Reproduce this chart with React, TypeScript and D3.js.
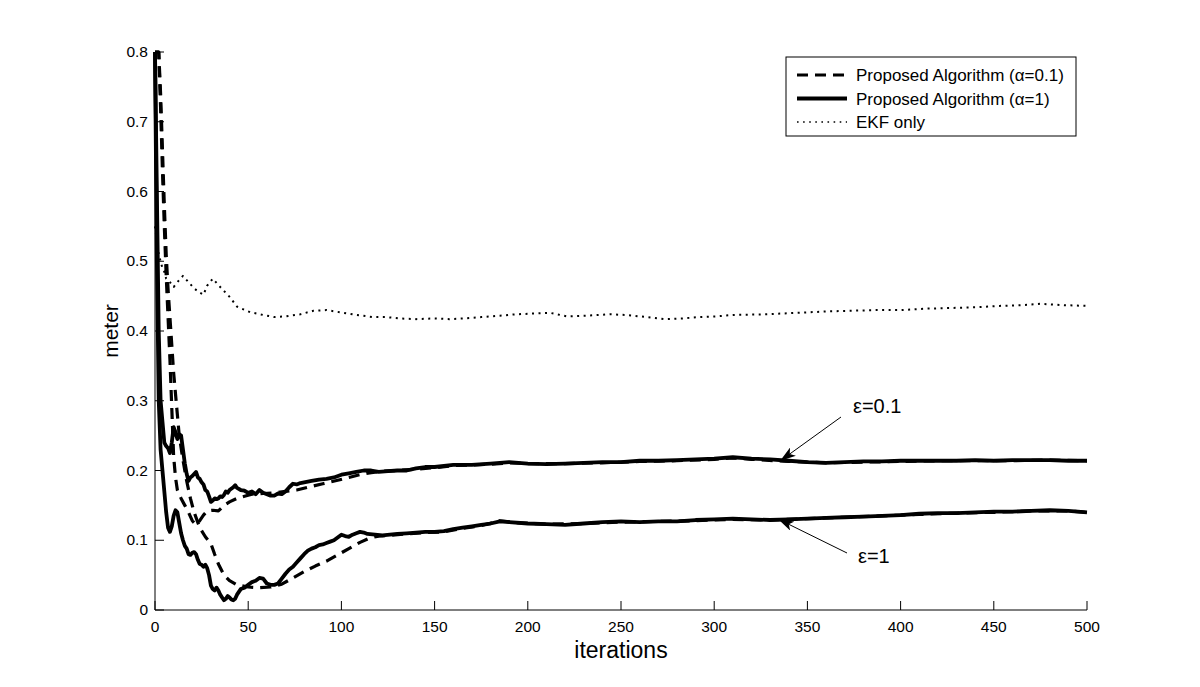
import React from 'react';
import * as d3 from 'd3';

// [iteration, meter]
const solidEps01: [number, number][] = [
  [0,0.80],[1,0.6],[2,0.4],[3,0.3],[4,0.27],[5,0.24],[6,0.235],[7,0.232],[8,0.225],[9,0.24],[10,0.262],[11,0.255],[12,0.245],[13,0.252],[14,0.25],[15,0.23],[16,0.21],[17,0.195],[18,0.185],[19,0.19],[20,0.192],[21,0.195],[22,0.198],[23,0.19],[24,0.188],[25,0.183],[26,0.18],[27,0.172],[28,0.17],[29,0.163],[30,0.155],[31,0.157],[32,0.16],[33,0.159],[34,0.16],[35,0.163],[36,0.162],[37,0.165],[38,0.17],[39,0.168],[40,0.172],[42,0.176],[43,0.179],[44,0.175],[46,0.172],[48,0.171],[50,0.168],[52,0.17],[54,0.166],[56,0.172],[58,0.168],[60,0.166],[62,0.164],[64,0.164],[66,0.167],[68,0.166],[70,0.17],[72,0.176],[74,0.181],[76,0.18],[78,0.182],[80,0.183],[84,0.185],[88,0.187],[92,0.188],[96,0.19],[100,0.194],[104,0.196],[108,0.198],[112,0.2],[116,0.2],[120,0.198],[125,0.199],[130,0.2],[135,0.2],[140,0.203],[145,0.205],[150,0.205],[160,0.208],[170,0.208],[180,0.21],[190,0.212],[200,0.21],[210,0.209],[220,0.21],[230,0.211],[240,0.212],[250,0.212],[260,0.214],[270,0.214],[280,0.215],[290,0.216],[300,0.217],[310,0.219],[320,0.217],[330,0.216],[340,0.214],[350,0.212],[360,0.211],[370,0.212],[380,0.213],[390,0.213],[400,0.214],[410,0.214],[420,0.214],[430,0.214],[440,0.215],[450,0.214],[460,0.215],[470,0.215],[480,0.215],[490,0.214],[500,0.214],
];

const solidEps1: [number, number][] = [
  [0,0.80],[1,0.5],[2,0.3],[3,0.23],[4,0.2],[5,0.17],[6,0.14],[7,0.118],[8,0.112],[9,0.12],[10,0.135],[11,0.143],[12,0.14],[13,0.125],[14,0.11],[15,0.1],[16,0.092],[17,0.088],[18,0.08],[19,0.079],[20,0.082],[21,0.083],[22,0.08],[23,0.072],[24,0.066],[25,0.065],[26,0.062],[27,0.065],[28,0.06],[29,0.05],[30,0.035],[31,0.03],[32,0.028],[33,0.032],[34,0.028],[35,0.022],[36,0.018],[37,0.014],[38,0.016],[39,0.02],[40,0.018],[41,0.015],[42,0.014],[43,0.016],[44,0.022],[45,0.026],[46,0.03],[48,0.032],[50,0.036],[52,0.04],[54,0.042],[56,0.046],[58,0.045],[60,0.038],[62,0.036],[64,0.036],[66,0.038],[68,0.045],[70,0.052],[72,0.058],[74,0.062],[76,0.068],[78,0.074],[80,0.08],[82,0.085],[84,0.088],[86,0.09],[88,0.093],[90,0.094],[92,0.096],[94,0.098],[96,0.1],[98,0.104],[100,0.108],[102,0.106],[104,0.105],[106,0.108],[108,0.11],[110,0.112],[112,0.111],[114,0.109],[118,0.108],[122,0.107],[126,0.108],[130,0.109],[135,0.11],[140,0.111],[145,0.112],[150,0.112],[155,0.113],[160,0.116],[165,0.118],[170,0.12],[175,0.122],[180,0.124],[185,0.127],[190,0.126],[200,0.124],[210,0.123],[220,0.122],[230,0.124],[240,0.126],[250,0.127],[260,0.126],[270,0.127],[280,0.127],[290,0.129],[300,0.13],[310,0.131],[320,0.13],[330,0.129],[340,0.13],[350,0.131],[360,0.132],[370,0.133],[380,0.134],[390,0.135],[400,0.136],[410,0.138],[420,0.139],[430,0.139],[440,0.14],[450,0.141],[460,0.141],[470,0.142],[480,0.143],[490,0.142],[500,0.14],
];

const dashedEps01: [number, number][] = [
  [0,0.80],[2,0.8],[3,0.72],[4,0.63],[5,0.55],[6,0.48],[7,0.42],[8,0.36],[9,0.29],[10,0.22],[11,0.19],[12,0.172],[14,0.16],[16,0.15],[18,0.14],[20,0.128],[22,0.122],[24,0.128],[26,0.136],[28,0.142],[31,0.143],[34,0.142],[37,0.15],[40,0.155],[44,0.16],[48,0.163],[52,0.166],[58,0.167],[64,0.168],[70,0.17],[76,0.172],[82,0.176],[90,0.181],[98,0.186],[104,0.19],[110,0.194],[116,0.197],[122,0.199],[130,0.2],[140,0.202],[150,0.204],[160,0.207],[170,0.208],[180,0.209],[190,0.211],[200,0.21],[220,0.21],[240,0.211],[260,0.213],[280,0.214],[300,0.216],[310,0.218],[320,0.216],[340,0.213],[360,0.211],[380,0.212],[400,0.213],[420,0.214],[440,0.214],[460,0.214],[480,0.215],[500,0.214],
];

const dashedEps1: [number, number][] = [
  [0,0.80],[2,0.8],[3,0.74],[4,0.66],[5,0.58],[6,0.51],[7,0.46],[8,0.42],[9,0.38],[10,0.34],[11,0.31],[12,0.28],[13,0.25],[15,0.215],[17,0.185],[19,0.16],[21,0.14],[24,0.118],[27,0.105],[30,0.095],[32,0.08],[34,0.066],[37,0.05],[40,0.042],[44,0.036],[50,0.033],[56,0.032],[62,0.033],[68,0.037],[74,0.046],[80,0.055],[86,0.063],[92,0.07],[98,0.079],[104,0.088],[110,0.097],[115,0.103],[120,0.106],[126,0.107],[135,0.109],[145,0.111],[155,0.112],[165,0.117],[175,0.121],[185,0.128],[195,0.125],[210,0.123],[230,0.124],[250,0.126],[270,0.127],[290,0.128],[310,0.13],[330,0.129],[350,0.131],[370,0.133],[390,0.135],[410,0.137],[430,0.139],[450,0.14],[470,0.142],[490,0.142],[500,0.14],
];

const ekfOnly: [number, number][] = [
  [0,0.55],[1,0.53],[2,0.51],[3,0.5],[4,0.49],[5,0.485],[6,0.475],[8,0.47],[10,0.463],[12,0.47],[15,0.479],[18,0.47],[21,0.461],[24,0.455],[26,0.452],[28,0.465],[31,0.475],[35,0.463],[40,0.449],[44,0.435],[51,0.427],[58,0.423],[64,0.42],[70,0.421],[78,0.424],[85,0.429],[92,0.43],[99,0.427],[108,0.423],[117,0.42],[124,0.42],[131,0.418],[140,0.417],[150,0.418],[158,0.417],[166,0.418],[175,0.42],[185,0.422],[194,0.424],[203,0.425],[212,0.426],[221,0.421],[232,0.422],[244,0.424],[252,0.423],[260,0.421],[274,0.417],[283,0.418],[292,0.42],[301,0.421],[310,0.423],[328,0.424],[344,0.426],[360,0.428],[373,0.429],[387,0.43],[400,0.43],[413,0.432],[427,0.433],[440,0.434],[453,0.436],[465,0.437],[475,0.439],[488,0.437],[500,0.436],
];

const xTicks = [0, 50, 100, 150, 200, 250, 300, 350, 400, 450, 500];
const yTicks = [0, 0.1, 0.2, 0.3, 0.4, 0.5, 0.6, 0.7, 0.8];
const legendLabels = ['Proposed Algorithm (\u03b1=0.1)', 'Proposed Algorithm (\u03b1=1)', 'EKF only'];

const font = '"Liberation Sans", Arial, Helvetica, sans-serif';
const dashStyle = { width: 3.2, dash: '11 7' };
const solidStyle = { width: 3.8, dash: undefined as string | undefined };
const dotStyle = { width: 2, dash: '2 4.5' };

export default function App() {
  const x = d3.scaleLinear().domain([0, 500]).range([155, 1087]);
  const y = d3.scaleLinear().domain([0, 0.8]).range([610, 52]);
  const line = d3.line<[number, number]>().x(d => x(d[0])).y(d => y(d[1]));

  const series = [
    { data: ekfOnly, ...dotStyle },
    { data: dashedEps01, ...dashStyle },
    { data: dashedEps1, ...dashStyle },
    { data: solidEps01, ...solidStyle },
    { data: solidEps1, ...solidStyle },
  ];

  const legendStyles = [dashStyle, solidStyle, { width: 1.6, dash: '1.6 4.5' }];

  return (
    <svg width={1200} height={687} style={{ position: 'absolute', left: 0, top: 0, background: '#fff' }}>
      <defs>
        <marker id="arr" viewBox="0 0 16 10" refX="16" refY="5" markerWidth="16" markerHeight="10" markerUnits="userSpaceOnUse" orient="auto">
          <path d="M0,0 L16,5 L0,10 L4,5 Z" fill="#000" />
        </marker>
      </defs>
      <rect width={1200} height={687} fill="#fff" />

      {series.map((s, i) => (
        <path key={i} d={line(s.data) ?? ''} fill="none" stroke="#000" strokeWidth={s.width}
          strokeDasharray={s.dash} strokeLinejoin="round" />
      ))}

      {/* axes */}
      <line x1={x(0)} x2={x(0)} y1={y(0)} y2={y(0.8)} stroke="#000" strokeWidth={1} />
      <line x1={x(0)} x2={x(500)} y1={y(0)} y2={y(0)} stroke="#000" strokeWidth={1} />
      {xTicks.map(t => (
        <g key={t}>
          <line x1={x(t)} x2={x(t)} y1={y(0)} y2={y(0) - 9} stroke="#000" />
          <text x={x(t)} y={y(0) + 22} textAnchor="middle" fontFamily={font} fontSize={15.5}>{t}</text>
        </g>
      ))}
      {yTicks.map(t => (
        <g key={t}>
          <line x1={x(0)} x2={x(0) + 9} y1={y(t)} y2={y(t)} stroke="#000" />
          <text x={x(0) - 7} y={y(t) + 5} textAnchor="end" fontFamily={font} fontSize={15.5}>{t}</text>
        </g>
      ))}
      <text x={621} y={658} textAnchor="middle" fontFamily={font} fontSize={23}>iterations</text>
      <text transform={`translate(118,${y(0.4)}) rotate(-90)`} textAnchor="middle" fontFamily={font} fontSize={21}>meter</text>

      {/* legend */}
      <rect x={786} y={57} width={290} height={79} fill="#fff" stroke="#000" strokeWidth={1} />
      {legendLabels.map((lab, i) => (
        <g key={lab}>
          <line x1={797} x2={847} y1={75 + i * 23.5} y2={75 + i * 23.5} stroke="#000"
            strokeWidth={legendStyles[i].width} strokeDasharray={legendStyles[i].dash} />
          <text x={856} y={75 + i * 23.5 + 6} fontFamily={font} fontSize={17}>{lab}</text>
        </g>
      ))}

      {/* annotations */}
      <line x1={841} y1={417} x2={780} y2={461} stroke="#000" strokeWidth={1} markerEnd="url(#arr)" />
      <text x={853} y={413} fontFamily={font} fontSize={20}>{'\u03b5=0.1'}</text>
      <line x1={847} y1={553} x2={778} y2={519} stroke="#000" strokeWidth={1} markerEnd="url(#arr)" />
      <text x={858} y={563} fontFamily={font} fontSize={20}>{'\u03b5=1'}</text>
    </svg>
  );
}
